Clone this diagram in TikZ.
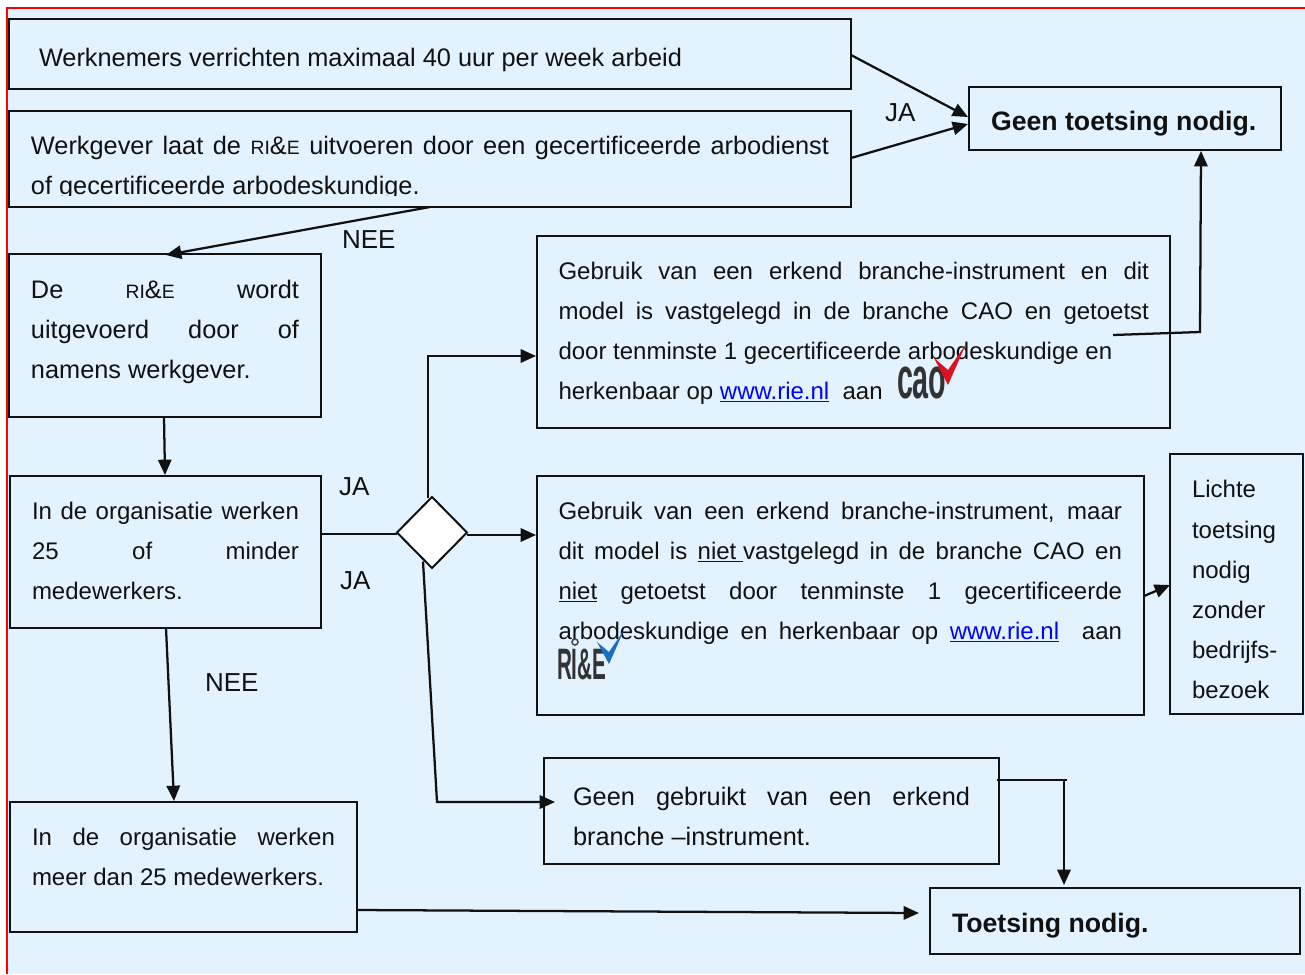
\documentclass[tikz,border=0pt]{standalone}
\usepackage{fontspec}
\setmainfont{Liberation Sans}
\usetikzlibrary{arrows.meta,shapes.geometric}
\definecolor{bgc}{HTML}{E2F3FF}
\definecolor{ink}{HTML}{111111}
\definecolor{linkc}{HTML}{0000FF}
\definecolor{tickred}{HTML}{DD1020}
\definecolor{tickblue}{HTML}{1A6FC4}
\newcommand{\jl}[2]{\hbox to #1\dimexpr 0.75pt\relax{#2}}
\newcommand{\txtblock}[1]{\vtop{\baselineskip=30pt\lineskiplimit=-20pt #1}}
\newcommand{\rie}{{\fontsize{14.5}{14.5}\selectfont RI}\&{\fontsize{14.5}{14.5}\selectfont E}}
\newcommand{\lnk}{\textcolor{linkc}{\underline{www.rie.nl}}}
\tikzset{
 x=0.75pt,y=-0.75pt,
 every node/.style={inner sep=0pt,outer sep=0pt,text=ink,font=\fontsize{18}{30}\selectfont},
 boxs/.style={draw=ink,line width=1.5pt,fill=bgc,rectangle,anchor=north west},
 txt/.style={anchor=base west},
 txtbig/.style={anchor=base west,font=\fontsize{19}{30}\selectfont},
 txtbold/.style={anchor=base west,font=\fontsize{20}{30}\selectfont\bfseries},
 lab/.style={anchor=base west,font=\fontsize{19.5}{30}\selectfont},
 conn/.style={draw=ink,line width=1.7pt},
 arr/.style={conn,-{Triangle[length=11.5pt,width=10pt]}},
}
\newcommand{\bx}[5]{\node[boxs,minimum width={(#4-#2)*0.75pt},minimum height={(#5-#3)*0.75pt}] (#1) at (#2,#3) {};}
\begin{document}
\begin{tikzpicture}
\useasboundingbox (0,0) rectangle (1305,974);
\fill[white] (0,0) rectangle (1305,974);
\fill[bgc] (7,8) rectangle (1305,974);
\draw[red,line width=1.2pt] (7,974) -- (7,8) -- (1305,8);
\bx{a}{9}{19}{851}{89}
\bx{b}{9}{111}{851}{207}
\bx{c}{9}{254}{321}{417}
\bx{d}{10}{476}{321}{628}
\bx{e}{10}{802}{357}{932}
\bx{f}{537}{236}{1170}{428}
\bx{g}{537}{476}{1144}{715}
\bx{h}{1170}{454}{1303}{714}
\bx{i}{544}{758}{999}{864}
\bx{j}{969}{87}{1281}{150}
\bx{k}{930}{888}{1300}{954}
\node[diamond,draw=ink,line width=1.5pt,fill=white,minimum width=52.5pt,minimum height=53.25pt] (dia) at (432,532.5) {};

\node[txtbig] (ta) at (39,66) {Werknemers verrichten maximaal 40 uur per week arbeid};
\node[txtbig] (tb) at (31,154) {\txtblock{\jl{798}{Werkgever laat de \rie\ uitvoeren door een gecertificeerde arbodienst}
\hbox{of gecertificeerde arbodeskundige.}}};
\fill[bgc] (10,195.5) rectangle (850,206);
\node[txtbig] (tc) at (31,298) {\txtblock{\jl{268}{De\hfil\rie\hfil wordt}
\jl{268}{uitgevoerd \hfil door \hfil of}
\hbox{namens werkgever.}}};
\node[txt] (td) at (32,519) {\txtblock{\jl{267}{In de organisatie werken}
\jl{267}{25 \hfil of \hfil minder}
\hbox{medewerkers.}}};
\node[txt] (te) at (32,845) {\txtblock{\jl{303}{In de organisatie werken}
\hbox{meer dan 25 medewerkers.}}};
\node[txt] (tf) at (558.5,279) {\txtblock{\jl{590.5}{Gebruik van een erkend branche-instrument en dit}
\jl{590.5}{model is vastgelegd in de branche CAO en getoetst}
\hbox{door tenminste 1 gecertificeerde arbodeskundige en}
\hbox{herkenbaar op \lnk\ \ aan}}};
\node[txt] (tg) at (558.5,519) {\txtblock{\jl{563.5}{Gebruik van een erkend branche-instrument, maar}
\jl{563.5}{dit model is \underline{niet\ }vastgelegd in de branche CAO en}
\jl{563.5}{\underline{niet} getoetst door tenminste 1 gecertificeerde}
\jl{563.5}{arbodeskundige en herkenbaar op \lnk\ \ aan}}};
\node[txt] (th) at (1192,497) {\txtblock{\hbox{Lichte}\vskip1pt\hbox{toetsing}\hbox{nodig}\hbox{zonder}\hbox{bedrijfs-}\hbox{bezoek}}};
\node[txtbig] (ti) at (573,805) {\txtblock{\jl{397}{Geen gebruikt van een erkend}
\hbox{branche –instrument.}}};
\node[txtbold] (tj) at (991,130) {Geen toetsing nodig.};
\node[txtbold] (tk) at (952,932) {Toetsing nodig.};

\node[lab] (l1) at (885,121.5) {JA};
\node[lab] (l2) at (342,248.5) {NEE};
\node[lab] (l3) at (339,495.5) {JA};
\node[lab] (l4) at (340,589.5) {JA};
\node[lab] (l5) at (205,691.5) {NEE};

% logos
\node[txt,font=\fontsize{44}{44}\selectfont\bfseries,text=black!80,xscale=.49] (cao) at (897,398) {cao};
\fill[tickred] (934,358) -- (948,370) -- (966,344) -- (948,385) -- cycle;
\node[txt,font=\fontsize{33}{33}\selectfont\bfseries,text=black!80,xscale=.47] (rielogo) at (557,679) {RI\&E};
\draw[black!70,line width=1.2pt] (575,642) circle (3);
\fill[tickblue] (597,642) -- (609,652) -- (624,630) -- (609,664) -- cycle;

% connectors
\draw[arr] ([shift={(0,36)}]a.north east) -- ([shift={(-1,30)}]j.north west);
\draw[arr] ([shift={(0,47)}]b.north east) -- ([shift={(-1,37)}]j.north west);
\draw[arr] ([shift={(421,0)}]b.south west) -- ([shift={(157,1)}]c.north west);
\draw[arr] ([shift={(155,0)}]c.south west) -- ([shift={(155,-1)}]d.north west);
\draw[arr] ([shift={(156,0)}]d.south west) -- ([shift={(164,-1)}]e.north west);
\draw[conn] ([shift={(0,58)}]d.north east) -- ([shift={(0,1.5)}]dia.west);
\draw[arr] ([shift={(-4,1)}]dia.north) -- ++(0,-142) -- ([shift={(-1,120)}]f.north west);
\draw[arr] ([shift={(0,2.5)}]dia.east) -- ([shift={(-1,59)}]g.north west);
\draw[arr] ([shift={(-9,29)}]dia.center) -- (437,802) -- ([shift={(11,44)}]i.north west);
\draw[arr] ([shift={(-57,99)}]f.north east) -- (1200,332) -- ([shift={(232,1)}]j.south west);
\draw[arr] ([shift={(0,120)}]g.north east) -- ([shift={(0,131)}]h.north west);
\draw[conn] ([shift={(-2,22)}]i.north east) -- (1067,780);
\draw[arr] (1064,780) -- ([shift={(134,-3)}]k.north west);
\draw[arr] ([shift={(0,108)}]e.north east) -- ([shift={(-11,25)}]k.north west);
\end{tikzpicture}
\end{document}
